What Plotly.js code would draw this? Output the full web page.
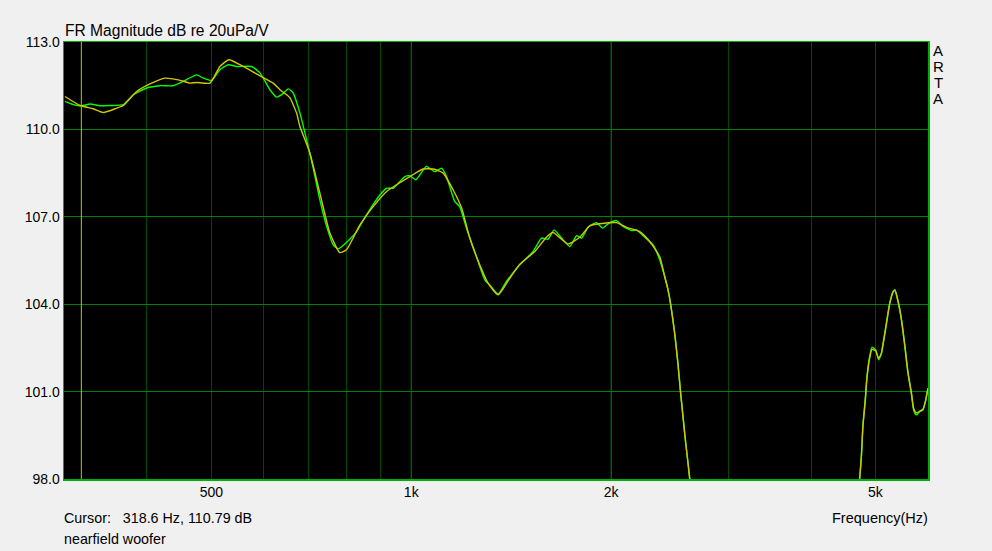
<!DOCTYPE html>
<html>
<head>
<meta charset="utf-8">
<script src="https://cdn.plot.ly/plotly-3.0.1.min.js"></script>
<style>
html,body{margin:0;padding:0;background:#f0f0f0;}
#chart{width:992px;height:551px;}
</style>
</head>
<body>
<div id="chart"></div>
<script>
// ---- data ----
const freqGreen = [
  301, 309.8, 318.6, 328.3, 339.9, 351.9, 368.5, 381.4, 399.5, 418.3,
  438.0, 453.5, 475.1, 486.2, 500.5, 515.1, 530.2, 545.8, 575.0, 591.8,
  612.7, 627.0, 640.3, 652.8, 664.1, 679.8, 695.8, 711.8, 728.5, 745.7,
  762.9, 776.2, 808.3, 827.3, 856.5, 897.0, 918.1, 939.3, 977.9, 995.2,
  1016, 1054, 1085, 1111, 1130, 1163, 1183, 1211, 1254, 1291,
  1313, 1352, 1391, 1457, 1526, 1571, 1607, 1641, 1684, 1733,
  1774, 1805, 1846, 1901, 1941, 1979, 2037, 2084, 2146, 2184,
  2234, 2312, 2367, 2408, 2436, 2459, 2493, 2521, 2545, 2566,
  2587, 2611, 2626, 2660, 3000, 4000, 4600, 4700, 4733, 4762,
  4788, 4828, 4855, 4901, 4940, 5004, 5056, 5104, 5144, 5193,
  5253, 5313, 5350, 5407, 5471, 5533, 5597, 5663, 5709, 5762,
  5829, 5896, 5952, 5993, 6000
];
const dbGreen = [
  110.96, 110.85, 110.81, 110.87, 110.81, 110.82, 110.85, 111.19, 111.42, 111.50,
  111.50, 111.65, 111.87, 111.76, 111.68, 112.05, 112.22, 112.16, 112.16, 111.94,
  111.36, 111.11, 111.22, 111.39, 111.25, 110.56, 109.64, 108.67, 107.58, 106.67,
  106.04, 105.90, 106.23, 106.49, 107.07, 107.75, 107.98, 107.98, 108.38, 108.41,
  108.27, 108.73, 108.55, 108.67, 108.38, 107.52, 107.35, 106.61, 105.63, 104.83,
  104.66, 104.35, 104.78, 105.35, 105.81, 106.27, 106.23, 106.55, 106.27, 105.98,
  106.35, 106.27, 106.64, 106.80, 106.61, 106.76, 106.87, 106.67, 106.53, 106.55,
  106.35, 106.04, 105.52, 104.95, 104.49, 103.98, 103.00, 101.97, 100.94, 100.14,
  99.34, 98.54, 98.02, 96.8, 88, 86, 94, 97.4, 97.99, 98.76,
  99.85, 100.77, 101.51, 102.20, 102.52, 102.43, 102.09, 102.32, 102.77, 103.35,
  104.03, 104.43, 104.47, 104.09, 103.46, 102.60, 101.63, 100.94, 100.37, 100.20,
  100.31, 100.37, 100.71, 101.06, 101.12
];
const freqYellow = [
  301, 317.2, 332.0, 343.9, 360.1, 368.5, 385.9, 404.1, 425.6, 445.9,
  464.2, 475.1, 497.6, 515.1, 531.4, 552.1, 591.8, 619.7, 634.3, 649.3,
  656.8, 672.0, 679.8, 703.7, 728.5, 754.2, 780.8, 799.0, 837.0, 876.4,
  918.1, 950.2, 995.2, 1042, 1079, 1117, 1156, 1191, 1225, 1268,
  1305, 1352, 1407, 1457, 1535, 1598, 1635, 1722, 1794, 1857,
  1922, 2037, 2109, 2208, 2286, 2367, 2408, 2436, 2459, 2493,
  2521, 2545, 2566, 2587, 2611, 2626, 2660, 3000, 4000, 4600,
  4700, 4733, 4762, 4788, 4828, 4855, 4901, 4940, 5004, 5056,
  5104, 5144, 5193, 5253, 5313, 5350, 5407, 5471, 5533, 5597,
  5663, 5709, 5762, 5829, 5896, 5952, 5993, 6000
];
const dbYellow = [
  111.13, 110.82, 110.71, 110.58, 110.73, 110.82, 111.30, 111.56, 111.76, 111.70,
  111.59, 111.61, 111.59, 112.16, 112.39, 112.22, 111.84, 111.59, 111.36, 111.19,
  111.08, 110.56, 110.10, 109.19, 107.81, 106.44, 105.77, 105.87, 106.72, 107.35,
  107.87, 108.10, 108.38, 108.64, 108.64, 108.50, 107.93, 107.30, 106.27, 105.35,
  104.72, 104.32, 104.89, 105.37, 105.81, 106.30, 106.46, 106.07, 106.30, 106.69,
  106.76, 106.80, 106.64, 106.49, 106.15, 105.63, 104.95, 104.49, 103.98, 103.00,
  101.97, 100.94, 100.14, 99.34, 98.54, 98.02, 96.8, 88, 86, 94,
  97.4, 97.99, 98.76, 99.80, 100.70, 101.45, 102.15, 102.45, 102.40, 102.15,
  102.30, 102.72, 103.30, 104.00, 104.40, 104.50, 104.12, 103.50, 102.65, 101.68,
  100.98, 100.42, 100.27, 100.33, 100.40, 100.70, 101.06, 101.12
];
const cursorHz = 318.6;
const cursorDb = 110.79;
const xRange = [300, 6000];
const yRange = [98, 113];
const xGridVals = [400, 500, 600, 700, 800, 900, 1000, 2000, 3000, 4000, 5000];
const xLabelVals = [500, 1000, 2000, 5000];
const xLabelText = ['500', '1k', '2k', '5k'];
const xBrightGrid = [1000, 2000];
const yTickVals = [98, 101, 104, 107, 110, 113];

// ---- layout geometry (pixels) ----
const W = 992, H = 551, PL = 64, PR = 928, PT = 42, PB = 479;
const px2x = p => (p - PL) / (PR - PL);
const py2y = p => (PB - p) / (PB - PT);
const FONT = 'Liberation Sans, Arial, sans-serif';

const xTickText = xGridVals.map(v => {
  const i = xLabelVals.indexOf(v);
  return i >= 0 ? xLabelText[i] : '';
});

const traces = [];
// bright vertical grid lines
xBrightGrid.forEach(v => {
  traces.push({x: [v, v], y: yRange, mode: 'lines', line: {color: '#007400', width: 1},
    hoverinfo: 'skip', showlegend: false});
});
// cursor line
traces.push({x: [cursorHz, cursorHz], y: yRange, mode: 'lines',
  line: {color: '#c8c000', width: 1}, hoverinfo: 'skip', showlegend: false});
traces.push({x: freqGreen, y: dbGreen, mode: 'lines',
  line: {color: '#00ff00', width: 1.4, shape: 'spline', smoothing: 0.5},
  hoverinfo: 'skip', showlegend: false});
traces.push({x: freqYellow, y: dbYellow, mode: 'lines',
  line: {color: '#d2c800', width: 1.4, shape: 'spline', smoothing: 0.5},
  hoverinfo: 'skip', showlegend: false});

const ann = [];
['A', 'R', 'T', 'A'].forEach((ch, i) => {
  ann.push({text: ch, xref: 'paper', yref: 'paper', x: px2x(938), y: py2y(50 + 16 * i),
    xanchor: 'center', yanchor: 'middle', showarrow: false, font: {family: FONT, size: 15, color: '#000'}});
});
ann.push({text: 'Cursor:\u00a0\u00a0\u00a0' + cursorHz.toFixed(1) + ' Hz, ' + cursorDb.toFixed(2) + ' dB',
  xref: 'paper', yref: 'paper', x: px2x(62), y: py2y(518), xanchor: 'left', yanchor: 'middle',
  showarrow: false, font: {family: FONT, size: 14.3, color: '#000'}});
ann.push({text: 'nearfield woofer', xref: 'paper', yref: 'paper', x: px2x(62), y: py2y(539),
  xanchor: 'left', yanchor: 'middle', showarrow: false, font: {family: FONT, size: 14.3, color: '#000'}});
ann.push({text: 'Frequency(Hz)', xref: 'paper', yref: 'paper', x: px2x(930), y: py2y(518),
  xanchor: 'right', yanchor: 'middle', showarrow: false, font: {family: FONT, size: 14.5, color: '#000'}});

const layout = {
  width: W, height: H,
  margin: {l: PL, r: W - PR, t: PT, b: H - PB, pad: 0},
  paper_bgcolor: '#f0f0f0',
  plot_bgcolor: '#000000',
  showlegend: false,
  hovermode: false,
  title: {text: 'FR Magnitude dB re 20uPa/V', xref: 'container', yref: 'container',
    x: 65 / W, xanchor: 'left', y: 1 - 31 / H, yanchor: 'middle',
    font: {family: FONT, size: 15.6, color: '#000'}},
  xaxis: {
    type: 'log', range: xRange.map(Math.log10),
    tickmode: 'array', tickvals: xGridVals, ticktext: xTickText,
    ticks: '', showgrid: true, gridcolor: '#004a00', gridwidth: 1,
    zeroline: false, showline: true, mirror: true, linecolor: '#00b000', linewidth: 1.5,
    tickfont: {family: FONT, size: 14, color: '#000'}, fixedrange: true
  },
  yaxis: {
    range: yRange, tickmode: 'array', tickvals: yTickVals,
    ticktext: yTickVals.map(v => v.toFixed(1)),
    ticks: '', showgrid: true, gridcolor: '#008000', gridwidth: 1,
    zeroline: false, showline: true, mirror: true, linecolor: '#00b000', linewidth: 1.5,
    tickfont: {family: FONT, size: 14, color: '#000'}, fixedrange: true
  },
  annotations: ann
};

Plotly.newPlot('chart', traces, layout, {displayModeBar: false, staticPlot: true});
</script>
</body>
</html>
